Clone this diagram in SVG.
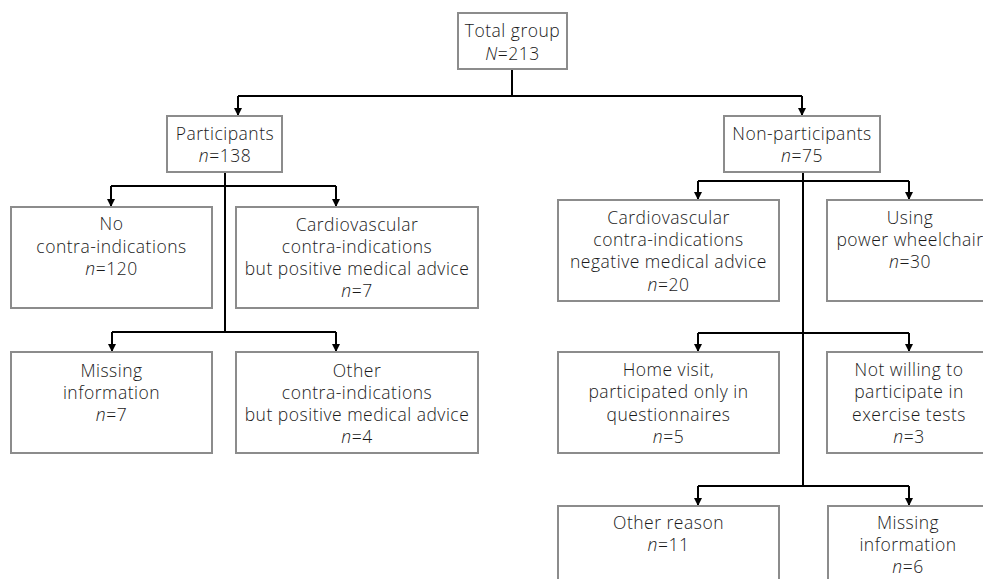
<svg xmlns="http://www.w3.org/2000/svg" width="983" height="579" viewBox="0 0 983 579">
  <style>
    .box { fill: #ffffff; stroke: #8c8c8c; stroke-width: 2; }
    .lbl { font-family: "Open Sans", "Liberation Sans", sans-serif; font-weight: 300; font-size: 17.5px; letter-spacing: 0.5px; fill: #1a1a1a; text-anchor: middle; }
    .it { font-style: italic; }
    .wire { fill: none; stroke: #000000; stroke-width: 2; }
    .arr { fill: none; stroke: #000000; stroke-width: 2; marker-end: url(#head); }
  </style>
  <defs>
    <marker id="head" viewBox="0 0 8 8" refX="8" refY="4" markerWidth="8" markerHeight="8" orient="auto" markerUnits="userSpaceOnUse">
      <path d="M0,0 L8,4 L0,8 Z" fill="#000000"/>
    </marker>
  </defs>

  <rect width="983" height="579" fill="#ffffff"/>

  <!-- connectors -->
  <g id="connectors">
    <path class="wire" d="M512,69 V96 M238,96 H802"/>
    <path class="arr" d="M238,96 V116"/>
    <path class="arr" d="M802,96 V116"/>

    <!-- participants branch -->
    <path class="wire" d="M225,172 V332 M111,186 H336 M112,332 H336"/>
    <path class="arr" d="M111,186 V207"/>
    <path class="arr" d="M336,186 V207"/>
    <path class="arr" d="M112,332 V352"/>
    <path class="arr" d="M336,332 V352"/>

    <!-- non-participants branch -->
    <path class="wire" d="M803,172 V486 M698,181 H909 M698,333 H909 M698,486 H909"/>
    <path class="arr" d="M698,181 V200"/>
    <path class="arr" d="M909,181 V200"/>
    <path class="arr" d="M698,333 V352"/>
    <path class="arr" d="M909,333 V352"/>
    <path class="arr" d="M698,486 V506"/>
    <path class="arr" d="M909,486 V506"/>
  </g>

  <g id="total">
    <rect class="box" x="458" y="13" width="109" height="56"/>
    <text class="lbl" x="512.5" y="37">Total group</text>
    <text class="lbl" x="512.5" y="60"><tspan class="it">N</tspan>=213</text>
  </g>

  <g id="participants">
    <rect class="box" x="167" y="116" width="115" height="56"/>
    <text class="lbl" x="225" y="140">Participants</text>
    <text class="lbl" x="225" y="162"><tspan class="it">n</tspan>=138</text>
  </g>

  <g id="non-participants">
    <rect class="box" x="724" y="116" width="156" height="56"/>
    <text class="lbl" x="802" y="140">Non-participants</text>
    <text class="lbl" x="802" y="162"><tspan class="it">n</tspan>=75</text>
  </g>

  <g id="no-contra">
    <rect class="box" x="11" y="207" width="201" height="101"/>
    <text class="lbl" x="111.5" y="230">No</text>
    <text class="lbl" x="111.5" y="253">contra-indications</text>
    <text class="lbl" x="111.5" y="275"><tspan class="it">n</tspan>=120</text>
  </g>

  <g id="cardio-positive">
    <rect class="box" x="236" y="207" width="242" height="101"/>
    <text class="lbl" x="357" y="231">Cardiovascular</text>
    <text class="lbl" x="357" y="253">contra-indications</text>
    <text class="lbl" x="357" y="275">but positive medical advice</text>
    <text class="lbl" x="357" y="297"><tspan class="it">n</tspan>=7</text>
  </g>

  <g id="missing-participants">
    <rect class="box" x="11" y="352" width="201" height="101"/>
    <text class="lbl" x="111.5" y="377">Missing</text>
    <text class="lbl" x="111.5" y="399">information</text>
    <text class="lbl" x="111.5" y="421"><tspan class="it">n</tspan>=7</text>
  </g>

  <g id="other-positive">
    <rect class="box" x="236" y="352" width="242" height="101"/>
    <text class="lbl" x="357" y="377">Other</text>
    <text class="lbl" x="357" y="399">contra-indications</text>
    <text class="lbl" x="357" y="421">but positive medical advice</text>
    <text class="lbl" x="357" y="443"><tspan class="it">n</tspan>=4</text>
  </g>

  <g id="cardio-negative">
    <rect class="box" x="558" y="200" width="221" height="101"/>
    <text class="lbl" x="668.5" y="224">Cardiovascular</text>
    <text class="lbl" x="668.5" y="246">contra-indications</text>
    <text class="lbl" x="668.5" y="268">negative medical advice</text>
    <text class="lbl" x="668.5" y="291"><tspan class="it">n</tspan>=20</text>
  </g>

  <g id="wheelchair">
    <rect class="box" x="827" y="200" width="170" height="101"/>
    <text class="lbl" x="910" y="224">Using</text>
    <text class="lbl" x="910" y="246">power wheelchair</text>
    <text class="lbl" x="910" y="268"><tspan class="it">n</tspan>=30</text>
  </g>

  <g id="home-visit">
    <rect class="box" x="558" y="352" width="221" height="101"/>
    <text class="lbl" x="668.5" y="376">Home visit,</text>
    <text class="lbl" x="668.5" y="398">participated only in</text>
    <text class="lbl" x="668.5" y="421">questionnaires</text>
    <text class="lbl" x="668.5" y="443"><tspan class="it">n</tspan>=5</text>
  </g>

  <g id="not-willing">
    <rect class="box" x="827" y="352" width="170" height="101"/>
    <text class="lbl" x="909" y="376">Not willing to</text>
    <text class="lbl" x="909" y="398">participate in</text>
    <text class="lbl" x="909" y="421">exercise tests</text>
    <text class="lbl" x="909" y="443"><tspan class="it">n</tspan>=3</text>
  </g>

  <g id="other-reason">
    <rect class="box" x="558" y="506" width="221" height="90"/>
    <text class="lbl" x="668.5" y="529">Other reason</text>
    <text class="lbl" x="668.5" y="551"><tspan class="it">n</tspan>=11</text>
  </g>

  <g id="missing-nonparticipants">
    <rect class="box" x="828" y="506" width="170" height="90"/>
    <text class="lbl" x="908" y="529">Missing</text>
    <text class="lbl" x="908" y="551">information</text>
    <text class="lbl" x="908" y="573"><tspan class="it">n</tspan>=6</text>
  </g>
</svg>
